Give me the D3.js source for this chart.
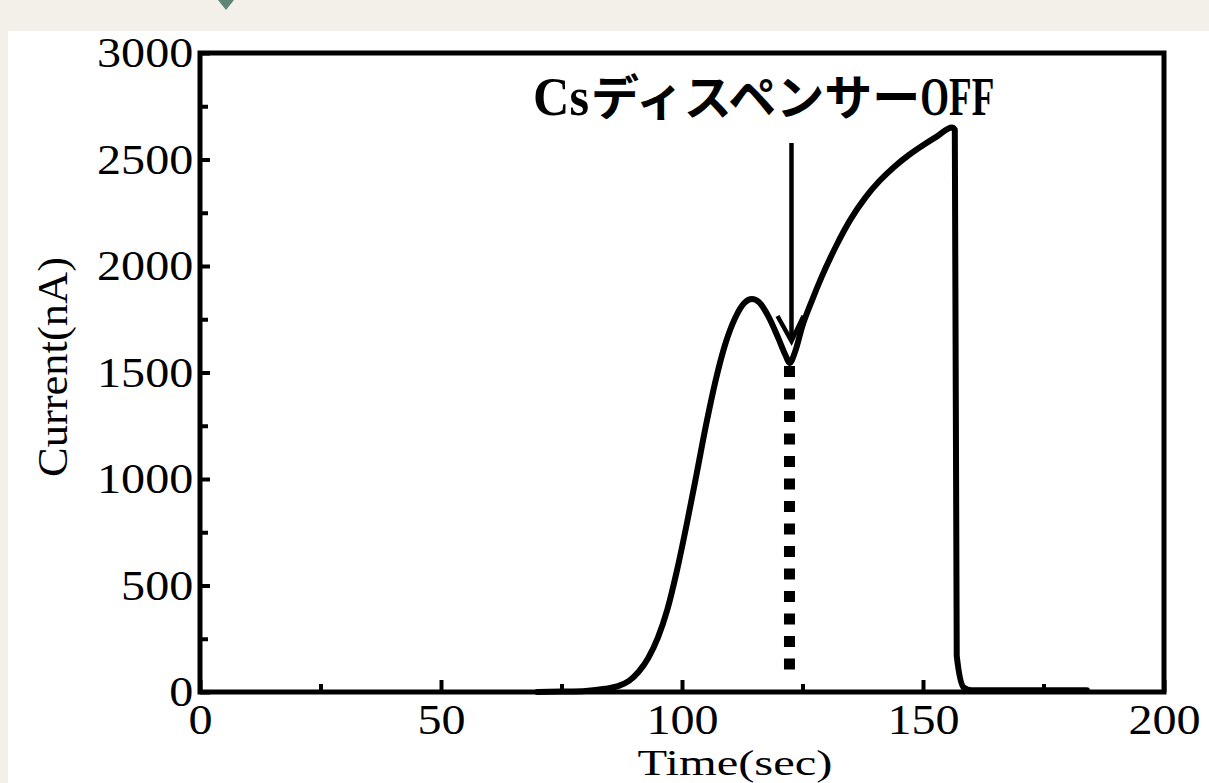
<!DOCTYPE html>
<html><head><meta charset="utf-8">
<script src="https://cdn.jsdelivr.net/npm/d3@7"></script>
<style>
html,body{margin:0;padding:0;background:#f3f0e9;}
svg{display:block;}
</style></head>
<body>
<svg id="chart" width="1209" height="783"></svg>
<script>
// ---- data ----
const timeSec = [70, 75, 80, 84, 87, 89, 91, 93, 95, 97, 99, 101, 103, 105, 107, 109, 111, 113, 114.5, 116, 118, 120, 121.5, 122.3, 123.5, 125, 127, 129, 132, 135, 138, 141, 144, 147, 150, 153, 156, 156.6, 157, 158.5, 160, 170, 175, 184];
const currentNA = [0, 2, 5, 15, 30, 52, 95, 160, 255, 390, 575, 790, 1020, 1255, 1465, 1635, 1755, 1828, 1845, 1830, 1760, 1660, 1580, 1545, 1600, 1720, 1840, 1950, 2095, 2220, 2320, 2400, 2465, 2520, 2567, 2610, 2650, 2640, 170, 20, 8, 8, 8, 8];
const xTicks = [0, 25, 50, 75, 100, 125, 150, 175, 200];
const xLabels = [0, 50, 100, 150, 200];
const yTicks = [0, 250, 500, 750, 1000, 1250, 1500, 1750, 2000, 2250, 2500, 2750, 3000];
const yLabels = [0, 500, 1000, 1500, 2000, 2500, 3000];
const offTime = 122.3;
const offCurrent = 1545;
const titleParts = ["Cs", "ディスペンサー", "OFF"];
const xTitle = "Time(sec)";
const yTitle = "Current(nA)";

const svg = d3.select("#chart");
// white panel
svg.append("rect").attr("x", 8).attr("y", 31).attr("width", 1201).attr("height", 752).attr("fill", "#ffffff");
// small decorative triangle
svg.append("path").attr("d", "M218,0 L234,0 L226,10 Z").attr("fill", "#5e8577");

const m = {left: 200, right: 1164, top: 53, bottom: 692};
const x = d3.scaleLinear().domain([0, 200]).range([m.left, m.right]);
const y = d3.scaleLinear().domain([0, 3000]).range([m.bottom, m.top]);

const serif = "'Liberation Serif','Times New Roman',serif";

// x axis
const gx = svg.append("g").attr("transform", `translate(0,${m.bottom})`)
  .call(d3.axisBottom(x).tickValues(xTicks)
    .tickSizeInner(0).tickSizeOuter(0).tickPadding(11)
    .tickFormat(d => xLabels.includes(d) ? d : ""));
gx.select(".domain").remove();
gx.selectAll(".tick line").attr("y2", d => xLabels.includes(d) ? -12 : -8)
  .attr("stroke", "#000").attr("stroke-width", 4);
gx.selectAll(".tick text").attr("font-family", serif).attr("font-size", 43)
  .attr("fill", "#000").attr("transform", "scale(1.12,1)");

// y axis
const gy = svg.append("g").attr("transform", `translate(${m.left},0)`)
  .call(d3.axisLeft(y).tickValues(yTicks)
    .tickSizeInner(0).tickSizeOuter(0).tickPadding(6)
    .tickFormat(d => yLabels.includes(d) ? d : ""));
gy.select(".domain").remove();
gy.selectAll(".tick line").attr("x2", d => yLabels.includes(d) ? 10 : 8)
  .attr("stroke", "#000").attr("stroke-width", 4);
gy.selectAll(".tick text").attr("font-family", serif).attr("font-size", 43)
  .attr("fill", "#000").attr("transform", "scale(1.12,1)");

// frame
svg.append("rect").attr("x", x(0)).attr("y", y(3000))
  .attr("width", x(200) - x(0)).attr("height", y(0) - y(3000))
  .attr("fill", "none").attr("stroke", "#000").attr("stroke-width", 5);

// data line
const line = d3.line().x((d, i) => x(timeSec[i])).y((d, i) => y(currentNA[i])).curve(d3.curveMonotoneX);
svg.append("path").datum(currentNA).attr("d", line)
  .attr("fill", "none").attr("stroke", "#000").attr("stroke-width", 6)
  .attr("stroke-linejoin", "round").attr("stroke-linecap", "round");

// dotted marker
svg.append("line").attr("x1", x(offTime)).attr("x2", x(offTime))
  .attr("y1", y(offCurrent) + 3).attr("y2", y(0) - 20)
  .attr("stroke", "#000").attr("stroke-width", 11).attr("stroke-dasharray", "11 11.5");

// arrow
const ax = x(offTime) + 2;
svg.append("line").attr("x1", ax).attr("x2", ax).attr("y1", 143).attr("y2", 340)
  .attr("stroke", "#000").attr("stroke-width", 4.5);
svg.append("path").attr("d", `M${ax - 14},316 L${ax},341 L${ax + 12},316`)
  .attr("fill", "none").attr("stroke", "#000").attr("stroke-width", 4.5);

// annotation
const t = svg.append("text").attr("x", 533).attr("y", 115).attr("font-weight", "bold").attr("fill", "#000");
t.append("tspan").attr("font-family", serif).attr("font-size", 54).attr("textLength", 56).attr("lengthAdjust", "spacingAndGlyphs").text(titleParts[0]);
t.append("tspan").attr("font-family", "'Noto Sans CJK JP'").attr("font-size", 48).attr("dx", 2).text(titleParts[1]);
t.append("tspan").attr("font-family", serif).attr("font-size", 54).attr("textLength", 74).attr("lengthAdjust", "spacingAndGlyphs").text(titleParts[2]);

// axis titles
svg.append("text").attr("x", 735).attr("y", 775).attr("text-anchor", "middle")
  .attr("font-family", serif).attr("font-size", 36).attr("textLength", 195).attr("lengthAdjust", "spacingAndGlyphs").text(xTitle);
svg.append("text").attr("transform", "translate(67,367) rotate(-90)").attr("text-anchor", "middle")
  .attr("font-family", serif).attr("font-size", 42).attr("textLength", 220).attr("lengthAdjust", "spacingAndGlyphs").text(yTitle);
</script>
</body></html>
